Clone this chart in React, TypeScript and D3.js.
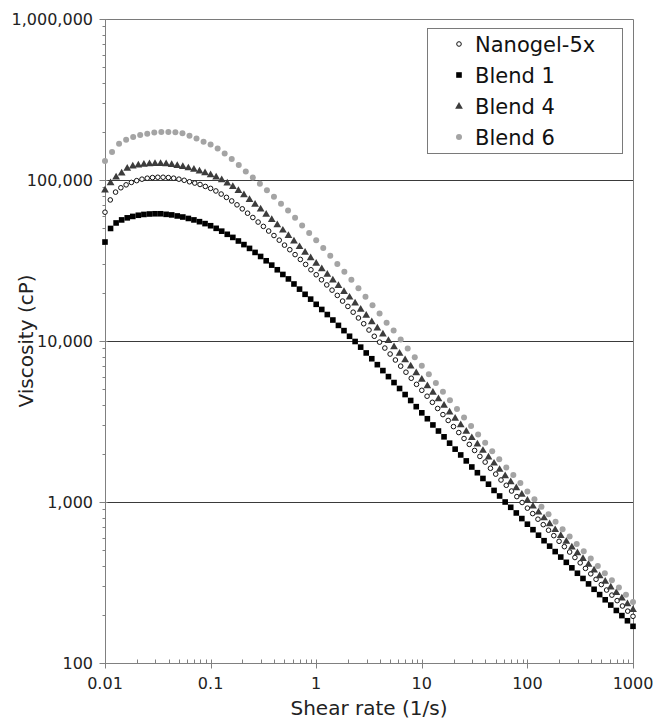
import React, { useEffect, useRef } from 'react';
import * as d3 from 'd3';

// shear rates (1/s) of each sweep
const rates19 = [
  0.01, 0.01129, 0.01274, 0.01438, 0.01624, 0.01833, 0.02069, 0.02336, 0.02637, 0.02976, 0.0336, 0.03793, 0.04281, 0.04833, 0.05456, 0.06158, 0.06952, 0.07848, 0.08859,
  0.1, 0.1129, 0.1274, 0.1438, 0.1624, 0.1833, 0.2069, 0.2336, 0.2637, 0.2976, 0.336, 0.3793, 0.4281, 0.4833, 0.5456, 0.6158, 0.6952, 0.7848, 0.8859,
  1, 1.129, 1.274, 1.438, 1.624, 1.833, 2.069, 2.336, 2.637, 2.976, 3.36, 3.793, 4.281, 4.833, 5.456, 6.158, 6.952, 7.848, 8.859,
  10, 11.29, 12.74, 14.38, 16.24, 18.33, 20.69, 23.36, 26.37, 29.76, 33.6, 37.93, 42.81, 48.33, 54.56, 61.58, 69.52, 78.48, 88.59,
  100, 112.9, 127.4, 143.8, 162.4, 183.3, 206.9, 233.6, 263.7, 297.6, 336, 379.3, 428.1, 483.3, 545.6, 615.8, 695.2, 784.8, 885.9,
  1000
];
const rates20 = [
  0.01, 0.01122, 0.01259, 0.01413, 0.01585, 0.01778, 0.01995, 0.02239, 0.02512, 0.02818, 0.03162, 0.03548, 0.03981, 0.04467, 0.05012, 0.05623, 0.0631, 0.07079, 0.07943, 0.08913,
  0.1, 0.1122, 0.1259, 0.1413, 0.1585, 0.1778, 0.1995, 0.2239, 0.2512, 0.2818, 0.3162, 0.3548, 0.3981, 0.4467, 0.5012, 0.5623, 0.631, 0.7079, 0.7943, 0.8913,
  1, 1.122, 1.259, 1.413, 1.585, 1.778, 1.995, 2.239, 2.512, 2.818, 3.162, 3.548, 3.981, 4.467, 5.012, 5.623, 6.31, 7.079, 7.943, 8.913,
  10, 11.22, 12.59, 14.13, 15.85, 17.78, 19.95, 22.39, 25.12, 28.18, 31.62, 35.48, 39.81, 44.67, 50.12, 56.23, 63.1, 70.79, 79.43, 89.13,
  100, 112.2, 125.9, 141.3, 158.5, 177.8, 199.5, 223.9, 251.2, 281.8, 316.2, 354.8, 398.1, 446.7, 501.2, 562.3, 631, 707.9, 794.3, 891.3,
  1000
];
const rates15 = [
  0.01, 0.01166, 0.01359, 0.01585, 0.01848, 0.02154, 0.02512, 0.02929, 0.03415, 0.03981, 0.04642, 0.05412, 0.0631, 0.07356, 0.08577,
  0.1, 0.1166, 0.1359, 0.1585, 0.1848, 0.2154, 0.2512, 0.2929, 0.3415, 0.3981, 0.4642, 0.5412, 0.631, 0.7356, 0.8577,
  1, 1.166, 1.359, 1.585, 1.848, 2.154, 2.512, 2.929, 3.415, 3.981, 4.642, 5.412, 6.31, 7.356, 8.577,
  10, 11.66, 13.59, 15.85, 18.48, 21.54, 25.12, 29.29, 34.15, 39.81, 46.42, 54.12, 63.1, 73.56, 85.77,
  100, 116.6, 135.9, 158.5, 184.8, 215.4, 251.2, 292.9, 341.5, 398.1, 464.2, 541.2, 631, 735.6, 857.7,
  1000
];

// viscosity (cP)
const nanogel5x = [
  63100, 75200, 84100, 89500, 93300, 96600, 99100, 101200, 102600, 103500, 104000, 104000, 103500, 102600, 101200, 99600, 97500, 95700, 93800, 91200,
  88700, 85500, 81800, 78000, 74100, 70100, 66200, 62200, 58500, 54800, 51500, 48200, 45200, 42300, 39400, 36900, 34400, 32100, 29900, 27700,
  25800, 24000, 22300, 20700, 19200, 17700, 16400, 15100, 13900, 12800, 11700, 10700, 9840, 9040, 8300, 7620, 6980, 6400, 5870, 5380,
  4940, 4540, 4160, 3810, 3490, 3210, 2940, 2700, 2480, 2280, 2090, 1920, 1770, 1620, 1490, 1370, 1270, 1170, 1080, 993,
  916, 847, 782, 723, 668, 618, 570, 528, 489, 452, 419, 387, 358, 331, 307, 284, 264, 244, 226, 210, 195
];
const blend1 = [
  41200, 50000, 54100, 56500, 58200, 59400, 60400, 61100, 61500, 61700, 61700, 61200, 60700, 59800, 58900, 57700, 56500, 55100, 53600,
  52000, 50100, 48100, 46000, 44000, 41800, 39700, 37600, 35500, 33500, 31500, 29600, 27700, 25900, 24300, 22600, 21000, 19500, 18200,
  16900, 15700, 14600, 13500, 12500, 11600, 10700, 9930, 9160, 8430, 7760, 7130, 6550, 6010, 5520, 5070, 4650, 4270, 3910,
  3580, 3290, 3010, 2760, 2540, 2320, 2130, 1960, 1800, 1650, 1520, 1400, 1290, 1180, 1090, 1000, 927, 855, 789,
  728, 673, 622, 575, 532, 492, 455, 422, 390, 361, 335, 310, 287, 266, 247, 229, 212, 197, 183, 169
];
const blend4 = [
  87100, 96600, 104700, 110900, 118900, 122500, 124500, 125900, 126800, 127100, 127100, 126500, 125300, 123600, 121600, 119400, 116900, 114300, 111400,
  108100, 104700, 100700, 96200, 91400, 86300, 81300, 76000, 71000, 66200, 61500, 57100, 53000, 49000, 45400, 41900, 38700, 35700, 33000,
  30500, 28200, 26100, 24000, 22200, 20400, 18800, 17300, 15800, 14500, 13200, 12100, 11100, 10100, 9250, 8430, 7670, 7010, 6380,
  5810, 5300, 4820, 4390, 4000, 3640, 3320, 3030, 2760, 2520, 2300, 2100, 1910, 1750, 1600, 1460, 1340, 1230, 1120,
  1030, 946, 869, 800, 735, 676, 622, 573, 527, 486, 448, 412, 379, 350, 323, 298, 275, 254, 234, 216
];
const blend6 = [
  131000, 149000, 168000, 178000, 185000, 190000, 194000, 197000, 199000, 199000, 198000, 195000, 188000, 181000, 173000,
  166000, 157000, 146000, 135000, 124000, 113000, 103500, 94800, 86500, 78700, 71300, 64600, 58200, 52200, 46900,
  42200, 37800, 33800, 30100, 26900, 24000, 21300, 18800, 16700, 14800, 13000, 11600, 10200, 8990, 7940,
  7010, 6210, 5480, 4840, 4280, 3780, 3350, 2960, 2630, 2330, 2070, 1840, 1640, 1470, 1310,
  1160, 1040, 933, 838, 753, 678, 610, 548, 494, 445, 401, 361, 326, 294, 265, 239
];

const seriesNames = ['Nanogel-5x', 'Blend 1', 'Blend 4', 'Blend 6'];
const xTicks = [0.01, 0.1, 1, 10, 100, 1000];
const xTickLabels = ['0.01', '0.1', '1', '10', '100', '1000'];
const yTicks = [100, 1000, 10000, 100000, 1000000];
const yTickLabels = ['100', '1,000', '10,000', '100,000', '1,000,000'];

const series = [
  { name: seriesNames[0], rates: rates20, values: nanogel5x, marker: 'circle' },
  { name: seriesNames[1], rates: rates19, values: blend1, marker: 'square' },
  { name: seriesNames[2], rates: rates19, values: blend4, marker: 'triangle' },
  { name: seriesNames[3], rates: rates15, values: blend6, marker: 'dot' }
];

const width = 654;
const height = 719;
const margin = { top: 19, right: 21, bottom: 56, left: 105 };
const font = "'DejaVu Sans', Verdana, sans-serif";

function drawMarker(g, kind, cx, cy) {
  if (kind === 'circle') {
    g.append('circle').attr('cx', cx).attr('cy', cy).attr('r', 2.3)
      .attr('fill', '#fff').attr('stroke', '#111').attr('stroke-width', 1);
  } else if (kind === 'square') {
    g.append('rect').attr('x', cx - 2.8).attr('y', cy - 2.8)
      .attr('width', 5.6).attr('height', 5.6).attr('fill', '#000');
  } else if (kind === 'triangle') {
    g.append('path').attr('transform', `translate(${cx},${cy + 0.5})`)
      .attr('d', d3.symbol(d3.symbolTriangle, 26)()).attr('fill', '#3c3c3c');
  } else {
    g.append('circle').attr('cx', cx).attr('cy', cy).attr('r', 3)
      .attr('fill', '#a4a4a4');
  }
}

export default function App() {
  const ref = useRef(null);

  useEffect(() => {
    const svg = d3.select(ref.current);
    svg.selectAll('*').remove();

    const x0 = margin.left;
    const x1 = width - margin.right;
    const y0 = height - margin.bottom;
    const y1 = margin.top;

    const x = d3.scaleLog().domain([0.01, 1000]).range([x0, x1]);
    const y = d3.scaleLog().domain([100, 1000000]).range([y0, y1]);
    const px = v => Math.round(v) + 0.5;

    svg.append('rect').attr('width', width).attr('height', height).attr('fill', '#fff');

    // gridlines
    svg.append('g').selectAll('line')
      .data(yTicks.slice(1, -1))
      .enter().append('line')
      .attr('x1', x0).attr('x2', x1)
      .attr('y1', d => px(y(d))).attr('y2', d => px(y(d)))
      .attr('stroke', '#3a3a3a').attr('stroke-width', 1);

    // frame top/right
    svg.append('path')
      .attr('d', `M${x0},${px(y1)}H${px(x1)}V${px(y0)}`)
      .attr('fill', 'none').attr('stroke', '#7a7a7a').attr('stroke-width', 1);

    // axes
    const axes = svg.append('g').attr('stroke', '#808080').attr('stroke-width', 1);
    axes.append('line').attr('x1', px(x0)).attr('x2', px(x0)).attr('y1', y1).attr('y2', px(y0));
    axes.append('line').attr('x1', px(x0)).attr('x2', x1 + 1).attr('y1', px(y0)).attr('y2', px(y0));

    const minor = [2, 3, 4, 5, 6, 7, 8, 9];
    xTicks.slice(0, -1).forEach(d => {
      minor.forEach(m => {
        const xx = px(x(d * m));
        axes.append('line').attr('x1', xx).attr('x2', xx).attr('y1', px(y0) - 4).attr('y2', px(y0));
      });
    });
    xTicks.forEach(d => {
      const xx = px(x(d));
      axes.append('line').attr('x1', xx).attr('x2', xx).attr('y1', px(y0) - 4).attr('y2', px(y0) + 5);
    });
    yTicks.slice(0, -1).forEach(d => {
      minor.forEach(m => {
        const yy = px(y(d * m));
        axes.append('line').attr('x1', px(x0) - 3).attr('x2', px(x0)).attr('y1', yy).attr('y2', yy);
      });
    });
    yTicks.forEach(d => {
      const yy = px(y(d));
      axes.append('line').attr('x1', px(x0) - 6).attr('x2', px(x0) + 2).attr('y1', yy).attr('y2', yy);
    });

    // tick labels
    svg.append('g').selectAll('text')
      .data(yTicks)
      .enter().append('text')
      .attr('x', x0 - 12).attr('y', d => y(d)).attr('dy', '0.36em')
      .attr('text-anchor', 'end').attr('font-family', font).attr('font-size', 16).attr('fill', '#222')
      .text((d, i) => yTickLabels[i]);

    svg.append('g').selectAll('text')
      .data(xTicks)
      .enter().append('text')
      .attr('x', d => x(d)).attr('y', y0 + 26)
      .attr('text-anchor', 'middle').attr('font-family', font).attr('font-size', 16).attr('fill', '#222')
      .text((d, i) => xTickLabels[i]);

    // axis titles
    svg.append('text')
      .attr('x', (x0 + x1) / 2).attr('y', 715)
      .attr('text-anchor', 'middle').attr('font-family', font).attr('font-size', 20).attr('fill', '#222')
      .text('Shear rate (1/s)');
    svg.append('text')
      .attr('transform', `translate(33,${(y0 + y1) / 2}) rotate(-90)`)
      .attr('text-anchor', 'middle').attr('font-family', font).attr('font-size', 20).attr('fill', '#222')
      .text('Viscosity (cP)');

    // data
    series.forEach(s => {
      const g = svg.append('g');
      s.values.forEach((v, i) => {
        drawMarker(g, s.marker, x(s.rates[i]), y(v));
      });
    });

    // legend
    const lg = svg.append('g');
    lg.append('rect').attr('x', 427.5).attr('y', 28.5).attr('width', 195).attr('height', 125)
      .attr('fill', '#fff').attr('stroke', '#7a7a7a').attr('stroke-width', 1);
    series.forEach((s, i) => {
      const cy = 44 + i * 31;
      drawMarker(lg, s.marker, 459, cy);
      lg.append('text').attr('x', 475).attr('y', cy).attr('dy', '0.36em')
        .attr('font-family', font).attr('font-size', 21).attr('fill', '#111')
        .text(s.name);
    });
  }, []);

  return (
    <svg ref={ref} width={width} height={height}
      style={{ position: 'absolute', left: 0, top: 0, display: 'block' }} />
  );
}
